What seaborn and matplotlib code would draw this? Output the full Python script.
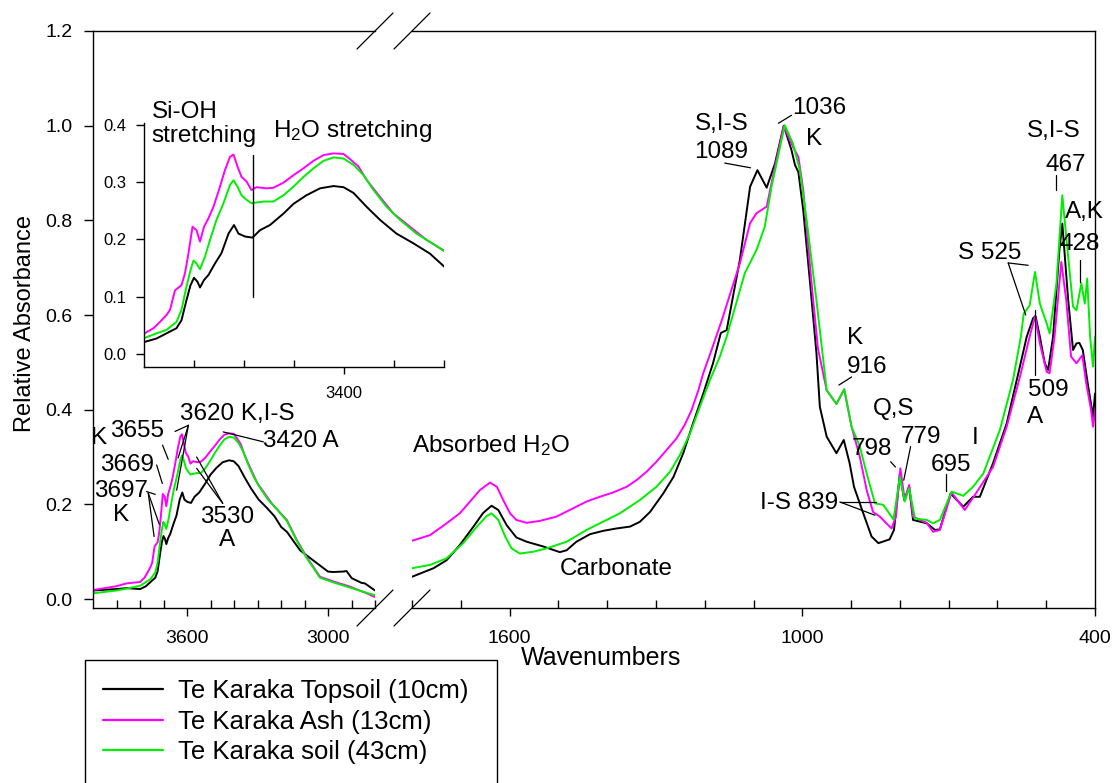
import numpy as np
import matplotlib.pyplot as plt
import seaborn as sns
from matplotlib.lines import Line2D
from matplotlib.patches import Rectangle
from matplotlib.ticker import FormatStrFormatter

sns.set_theme(style="white")
plt.rcParams['font.family'] = ['Liberation Sans', 'DejaVu Sans']
plt.rcParams['mathtext.fontset'] = 'custom'
plt.rcParams['mathtext.rm'] = 'Liberation Sans'
plt.rcParams['mathtext.default'] = 'regular'
plt.rcParams['text.color'] = 'black'
plt.rcParams['axes.edgecolor'] = 'black'
plt.rcParams['xtick.color'] = 'black'
plt.rcParams['ytick.color'] = 'black'

labels = ["Te Karaka Topsoil (10cm)", "Te Karaka Ash (13cm)", "Te Karaka soil (43cm)"]
colors = ["black", "#ff00ff", "#00ee00"]

# O-H stretching region, 4000-2800 cm-1
top_hi_wn = [4000, 3900, 3857, 3799, 3775, 3755, 3735, 3725, 3715, 3707, 3700, 3693, 3688,
             3680, 3671, 3658, 3645, 3631, 3620, 3611, 3598, 3583, 3568, 3548, 3521, 3501,
             3475, 3448, 3421, 3401, 3381, 3355, 3328, 3295, 3261, 3228, 3199, 3175, 3119,
             3064, 3000, 2979, 2936, 2921, 2899, 2857, 2843, 2800]
top_hi = [0.018, 0.021, 0.023, 0.021, 0.027, 0.036, 0.045, 0.059, 0.094, 0.120, 0.133, 0.126, 0.116,
          0.129, 0.138, 0.158, 0.176, 0.210, 0.225, 0.210, 0.205, 0.203, 0.216, 0.225, 0.245, 0.262,
          0.277, 0.289, 0.293, 0.291, 0.281, 0.257, 0.234, 0.210, 0.193, 0.175, 0.152, 0.142, 0.103,
          0.082, 0.058, 0.057, 0.058, 0.059, 0.044, 0.034, 0.033, 0.018]

ash_hi_wn = [4000, 3900, 3857, 3799, 3781, 3768, 3755, 3748, 3738, 3725, 3718, 3711, 3703,
             3695, 3688, 3680, 3671, 3661, 3648, 3638, 3628, 3621, 3613, 3605, 3595, 3585,
             3575, 3555, 3541, 3521, 3501, 3481, 3461, 3441, 3421, 3401, 3388, 3371, 3355,
             3328, 3301, 3268, 3235, 3218, 3175, 3133, 3091, 3034, 2977, 2906, 2835, 2800]
ash_hi = [0.019, 0.027, 0.033, 0.036, 0.045, 0.056, 0.068, 0.077, 0.111, 0.120, 0.141, 0.176, 0.222,
          0.216, 0.196, 0.222, 0.237, 0.257, 0.292, 0.321, 0.344, 0.348, 0.327, 0.309, 0.301, 0.286,
          0.291, 0.289, 0.290, 0.299, 0.312, 0.324, 0.337, 0.347, 0.350, 0.349, 0.340, 0.327, 0.304,
          0.274, 0.245, 0.222, 0.199, 0.190, 0.167, 0.125, 0.089, 0.047, 0.037, 0.026, 0.012, 0.004]

soil_hi_wn = [4000, 3900, 3857, 3799, 3775, 3755, 3735, 3725, 3715, 3707, 3701, 3695, 3688,
              3678, 3668, 3655, 3641, 3628, 3621, 3613, 3605, 3595, 3585, 3561, 3541, 3521,
              3501, 3481, 3461, 3441, 3421, 3401, 3381, 3361, 3341, 3315, 3288, 3255, 3218,
              3175, 3133, 3091, 3034, 2977, 2906, 2835, 2800]
soil_hi = [0.012, 0.018, 0.022, 0.028, 0.036, 0.042, 0.056, 0.077, 0.118, 0.146, 0.163, 0.158, 0.148,
           0.170, 0.199, 0.234, 0.263, 0.295, 0.303, 0.292, 0.277, 0.269, 0.263, 0.266, 0.266, 0.277,
           0.292, 0.309, 0.324, 0.337, 0.343, 0.341, 0.330, 0.312, 0.286, 0.257, 0.234, 0.210, 0.190,
           0.165, 0.123, 0.087, 0.045, 0.035, 0.024, 0.013, 0.008]

# fingerprint region, 1800-400 cm-1
top_lo_wn = [1800, 1756, 1729, 1702, 1674, 1654, 1637, 1623, 1606, 1586, 1565, 1531, 1497,
             1483, 1463, 1435, 1408, 1381, 1353, 1333, 1312, 1285, 1264, 1244, 1224, 1203,
             1183, 1167, 1155, 1128, 1107, 1092, 1073, 1056, 1038, 1022, 1015, 1008, 998,
             984, 971, 964, 950, 930, 915, 903, 894, 875, 858, 844, 821, 812, 800, 791, 781,
             773, 745, 728, 718, 696, 670, 650, 636, 609, 581, 554, 540, 527, 522, 513, 503,
             496, 486, 473, 467, 455, 445, 438, 432, 425, 415, 404, 400]
top_lo = [0.047, 0.065, 0.082, 0.114, 0.153, 0.182, 0.197, 0.188, 0.156, 0.130, 0.121, 0.111, 0.099,
          0.103, 0.121, 0.137, 0.144, 0.149, 0.153, 0.163, 0.184, 0.223, 0.258, 0.308, 0.371, 0.434,
          0.498, 0.562, 0.568, 0.716, 0.871, 0.906, 0.869, 0.920, 1.000, 0.948, 0.917, 0.902, 0.821,
          0.667, 0.520, 0.406, 0.343, 0.308, 0.336, 0.287, 0.237, 0.181, 0.132, 0.118, 0.126, 0.146,
          0.265, 0.209, 0.237, 0.167, 0.160, 0.146, 0.147, 0.223, 0.195, 0.216, 0.216, 0.287, 0.371,
          0.491, 0.554, 0.593, 0.598, 0.554, 0.498, 0.484, 0.554, 0.737, 0.793, 0.632, 0.526, 0.540,
          0.541, 0.526, 0.456, 0.385, 0.434]

ash_lo_wn = [1800, 1763, 1729, 1702, 1681, 1661, 1640, 1626, 1613, 1599, 1586, 1565, 1538,
             1504, 1469, 1442, 1415, 1388, 1360, 1340, 1319, 1299, 1278, 1258, 1241, 1227,
             1213, 1203, 1186, 1165, 1128, 1107, 1094, 1073, 1056, 1038, 1019, 1008, 998, 981,
             968, 950, 930, 914, 899, 882, 868, 855, 841, 817, 808, 799, 790, 781, 773, 745,
             732, 718, 694, 667, 646, 609, 581, 554, 534, 523, 513, 499, 493, 483, 469, 459,
             449, 438, 426, 418, 408, 404, 400]
ash_lo = [0.123, 0.135, 0.160, 0.181, 0.206, 0.230, 0.246, 0.237, 0.209, 0.181, 0.167, 0.161, 0.165,
          0.174, 0.192, 0.206, 0.216, 0.225, 0.237, 0.251, 0.269, 0.290, 0.315, 0.339, 0.368, 0.399,
          0.441, 0.477, 0.526, 0.589, 0.709, 0.794, 0.815, 0.829, 0.913, 0.999, 0.955, 0.934, 0.864,
          0.667, 0.530, 0.441, 0.412, 0.443, 0.364, 0.300, 0.230, 0.184, 0.174, 0.149, 0.174, 0.276,
          0.209, 0.241, 0.174, 0.161, 0.142, 0.146, 0.225, 0.188, 0.220, 0.279, 0.364, 0.469, 0.554,
          0.597, 0.540, 0.480, 0.477, 0.554, 0.712, 0.632, 0.512, 0.498, 0.515, 0.456, 0.399, 0.364,
          0.400]

soil_lo_wn = [1800, 1763, 1729, 1695, 1667, 1647, 1637, 1623, 1609, 1596, 1579, 1551, 1524,
              1483, 1442, 1415, 1374, 1333, 1299, 1271, 1251, 1230, 1210, 1189, 1169, 1155,
              1118, 1094, 1077, 1063, 1036, 1019, 1005, 991, 971, 957, 950, 930, 914, 899, 882,
              868, 851, 834, 813, 800, 790, 781, 769, 745, 732, 718, 694, 670, 650, 629, 595,
              568, 552, 546, 534, 523, 513, 499, 493, 479, 467, 455, 445, 438, 428, 421, 416,
              410, 404, 400]
soil_lo = [0.065, 0.072, 0.086, 0.118, 0.153, 0.175, 0.181, 0.167, 0.132, 0.107, 0.096, 0.100, 0.107,
           0.121, 0.146, 0.160, 0.181, 0.209, 0.237, 0.269, 0.304, 0.350, 0.406, 0.463, 0.512, 0.554,
           0.688, 0.737, 0.786, 0.871, 1.001, 0.962, 0.906, 0.800, 0.631, 0.505, 0.441, 0.412, 0.443,
           0.364, 0.322, 0.265, 0.202, 0.199, 0.168, 0.258, 0.206, 0.234, 0.170, 0.167, 0.160, 0.167,
           0.227, 0.218, 0.237, 0.265, 0.357, 0.463, 0.554, 0.603, 0.620, 0.691, 0.624, 0.582, 0.561,
           0.667, 0.853, 0.723, 0.618, 0.610, 0.667, 0.624, 0.677, 0.554, 0.491, 0.554]

hi_sets = [(top_hi_wn, top_hi), (ash_hi_wn, ash_hi), (soil_hi_wn, soil_hi)]
lo_sets = [(top_lo_wn, top_lo), (ash_lo_wn, ash_lo), (soil_lo_wn, soil_lo)]

# band labels: text, wavenumber, absorbance, alignment
hi_notes = [("K", 4010, 0.340, "left"), ("3655", 3928, 0.355, "left"),
            ("3669", 3970, 0.283, "left"), ("3697", 3996, 0.228, "left"),
            ("K", 3879, 0.177, "center"), ("3620 K,I-S", 3630, 0.391, "left"),
            ("3420 A", 3277, 0.334, "left"), ("3530", 3428, 0.174, "center"),
            ("A", 3428, 0.125, "center")]
hi_leads = [(3704, 0.325, 3680, 0.295), (3729, 0.283, 3705, 0.244),
            (3772, 0.227, 3735, 0.221), (3765, 0.224, 3740, 0.132),
            (3765, 0.224, 3718, 0.158), (3594, 0.367, 3651, 0.354),
            (3594, 0.367, 3638, 0.298), (3594, 0.367, 3644, 0.230),
            (3275, 0.332, 3446, 0.353), (3448, 0.202, 3559, 0.300),
            (3448, 0.202, 3559, 0.276)]
lo_notes = [("Absorbed H$_2$O", 1800, 0.325, "left"), ("Carbonate", 1497, 0.063, "left"),
            ("S,I-S", 1165, 1.003, "center"), ("1089", 1166, 0.944, "center"),
            ("1036", 1020, 1.037, "left"), ("K", 976, 0.971, "center"),
            ("K", 891, 0.551, "center"), ("916", 868, 0.490, "center"),
            ("Q,S", 812, 0.401, "center"), ("779", 757, 0.342, "center"),
            ("798", 857, 0.317, "center"), ("I", 646, 0.340, "center"),
            ("695", 696, 0.283, "center"), ("I-S 839", 927, 0.203, "right"),
            ("S 525", 681, 0.731, "left"), ("509", 495, 0.441, "center"),
            ("A", 523, 0.384, "center"), ("S,I-S", 485, 0.988, "center"),
            ("467", 459, 0.917, "center"), ("A,K", 421, 0.817, "center"),
            ("428", 431, 0.750, "center")]
lo_leads = [(1159, 0.921, 1106, 0.911), (1049, 1.005, 1022, 1.022),
            (899, 0.469, 925, 0.452), (778, 0.322, 792, 0.251),
            (819, 0.290, 809, 0.279), (706, 0.265, 706, 0.228),
            (923, 0.205, 848, 0.205), (923, 0.205, 851, 0.177),
            (578, 0.710, 537, 0.705), (578, 0.710, 542, 0.600),
            (522, 0.610, 522, 0.473), (479, 0.895, 479, 0.864),
            (431, 0.716, 431, 0.669)]

W, H = 1113, 783
fig = plt.figure(figsize=(W / 100, H / 100), dpi=100)
fig.patch.set_facecolor("white")


def box(x0, y0, x1, y1):
    return [x0 / W, 1 - y1 / H, (x1 - x0) / W, (y1 - y0) / H]


axL = fig.add_axes(box(93, 31, 375, 608))
axR = fig.add_axes(box(412, 31, 1095, 608))
axI = fig.add_axes(box(144, 123, 444, 367))
axI.set_facecolor("none")

for ax in (axL, axR, axI):
    sets = lo_sets if ax is axR else hi_sets
    for (wn, ab), c in zip(sets, colors):
        sns.lineplot(x=wn, y=ab, ax=ax, color=c, lw=1.4, sort=False,
                     estimator=None, legend=False)
    ax.set_xlabel("")
    ax.set_ylabel("")

fs = 17.5
for ax, notes, leads in ((axL, hi_notes, hi_leads), (axR, lo_notes, lo_leads)):
    for s, x, y, ha in notes:
        ax.text(x, y, s, fontsize=fs, ha=ha, va="center", clip_on=False)
    for x0, y0, x1, y1 in leads:
        ax.plot([x0, x1], [y0, y1], color="black", lw=0.9, clip_on=False)

# main axes
for ax in (axL, axR):
    ax.set_ylim(-0.019, 1.2)
    for sp in ax.spines.values():
        sp.set_linewidth(1.0)
        sp.set_color("black")
    ax.tick_params(axis="x", which="major", direction="out", length=6, width=1,
                   pad=10, labelsize=14, bottom=True)
    ax.tick_params(axis="x", which="minor", direction="in", length=5.5, width=1,
                   bottom=True)

axL.set_xlim(4000, 2800)
axL.set_xticks([3600, 3000])
axL.set_xticks(np.arange(3900, 2799, -100), minor=True)
axL.set_yticks(np.arange(0, 1.21, 0.2))
axL.yaxis.set_major_formatter(FormatStrFormatter("%.1f"))
axL.tick_params(axis="y", direction="out", length=6.7, width=1, pad=8,
                labelsize=14, left=True)
axL.spines["right"].set_visible(False)

axR.set_xlim(1800, 400)
axR.set_xticks([1600, 1000, 400])
axR.set_xticks(np.arange(1800, 399, -100), minor=True)
axR.set_yticks([])
axR.spines["left"].set_visible(False)

# inset
axI.set_xlim(3800, 3200)
axI.set_ylim(-0.0227, 0.403)
axI.set_xticks([3400])
axI.set_xticks([3700, 3600, 3500, 3300, 3200], minor=True)
axI.set_yticks([0, 0.1, 0.2, 0.3, 0.4])
axI.yaxis.set_major_formatter(FormatStrFormatter("%.1f"))
axI.spines["top"].set_visible(False)
axI.spines["right"].set_visible(False)
for sp in axI.spines.values():
    sp.set_linewidth(1.0)
    sp.set_color("black")
axI.tick_params(axis="x", which="major", direction="out", length=4.8, width=1,
                pad=9, labelsize=12, bottom=True)
axI.tick_params(axis="x", which="minor", direction="in", length=4.8, width=1,
                bottom=True)
axI.tick_params(axis="y", direction="out", length=5.5, width=1, pad=7,
                labelsize=12, left=True)
axI.plot([3582, 3582], [0.1, 0.347], color="black", lw=1.0)
axI.text(3785, 0.411, "Si-OH", fontsize=fs, va="baseline", clip_on=False)
axI.text(3785, 0.369, "stretching", fontsize=fs, va="baseline", clip_on=False)
axI.text(3542, 0.378, "H$_2$O stretching", fontsize=fs, va="baseline", clip_on=False)

# axis break marks
for bx in (375, 412):
    for by in (31, 608):
        fig.add_artist(Line2D([(bx - 18) / W, (bx + 18) / W],
                              [1 - (by + 18) / H, 1 - (by - 18) / H],
                              color="black", lw=0.9))

fig.text(25 / W, 1 - 323 / H, "Relative Absorbance", rotation=90,
         fontsize=17, ha="center", va="center")
fig.text(601 / W, 1 - 658 / H, "Wavenumbers", fontsize=18, ha="center", va="center")

# legend
fig.add_artist(Rectangle((85 / W, 1 - 800 / H), 412 / W, 140 / H, fill=False,
                         edgecolor="black", lw=1.0, transform=fig.transFigure))
handles = [Line2D([], [], color=c, lw=1.6) for c in colors]
fig.legend(handles, labels, loc="upper left", bbox_to_anchor=(103 / W, 1 - 679 / H),
           frameon=False, fontsize=18.5, handlelength=2.35, handletextpad=0.58,
           labelspacing=0.26, borderpad=0, borderaxespad=0)

fig.savefig("out.png", dpi=100)
